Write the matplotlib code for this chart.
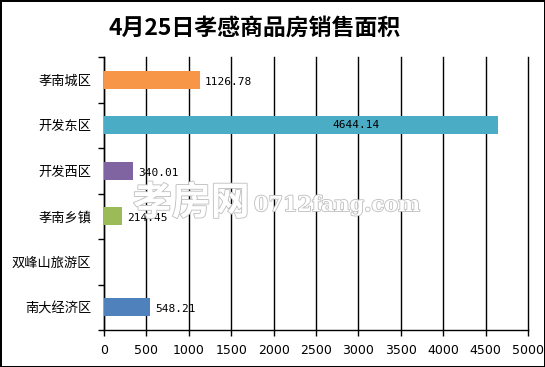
import matplotlib
matplotlib.use('Agg')
import matplotlib.pyplot as plt
import matplotlib.patheffects as pe
import numpy as np

plt.rcParams['font.family'] = ['Noto Sans CJK SC', 'DejaVu Sans']

# data, top to bottom as in the chart
districts = ['孝南城区', '开发东区', '开发西区', '孝南乡镇', '双峰山旅游区', '南大经济区']
areas = [1126.78, 4644.14, 340.01, 214.45, 0, 548.21]
colors = ['#F79646', '#4BACC6', '#8064A2', '#9BBB59', '#4F81BD', '#4F81BD']
x_ticks = list(range(0, 5001, 500))

fig = plt.figure(figsize=(5.45, 3.67), dpi=100)
fig.patch.set_edgecolor('black')
fig.patch.set_linewidth(2)
ax = fig.add_axes([104 / 545, 1 - 330 / 367, 424 / 545, 273 / 367])

y = np.arange(len(districts))
ax.barh(y, areas, height=0.4, color=colors, zorder=3)
ax.set_ylim(len(districts) - 0.5, -0.5)
ax.set_xlim(0, 5000)

# value labels
for yi, v in zip(y, areas):
    if v == 0:
        continue
    if v > 4000:
        ax.text(v * 0.64, yi, f'{v:.2f}', ha='center', va='center',
                fontsize=8, family='DejaVu Sans Mono', zorder=6)
    else:
        ax.text(v + 60, yi + 0.04, f'{v:.2f}', ha='left', va='center',
                fontsize=8, family='DejaVu Sans Mono', zorder=6)

ax.set_xticks(x_ticks)
ax.set_xticklabels([str(t) for t in x_ticks], fontsize=9, family='DejaVu Sans')
ax.set_yticks(y)
ax.set_yticklabels(districts, fontsize=9.5)
ax.set_yticks(np.arange(len(districts) + 1) - 0.5, minor=True)
ax.tick_params(axis='y', which='major', length=0, pad=9)
ax.tick_params(axis='y', which='minor', length=4, width=1, direction='out')
ax.tick_params(axis='x', length=4, width=1, direction='out', pad=6)
ax.grid(axis='x', color='black', linewidth=1, zorder=0)
for gl in ax.get_xgridlines():
    gl.set_clip_on(False)
for s in ['top', 'right']:
    ax.spines[s].set_visible(False)
for s in ['left', 'bottom']:
    ax.spines[s].set_linewidth(1)

fig.text(255 / 545, 1 - 28 / 367, '4月25日孝感商品房销售面积', ha='center', va='center',
         fontsize=16.5, fontweight='bold')

# watermark
wm = [pe.withStroke(linewidth=1.2, foreground='#bdbdbd')]
fig.text(133 / 545, 1 - 203 / 367, '孝房网', fontsize=28, color='white',
         ha='left', va='center', fontweight='bold', path_effects=wm, zorder=5)
fig.text(254 / 545, 1 - 205 / 367, '0712fang.com', fontsize=15, color='white',
         ha='left', va='center', family='DejaVu Serif', fontweight='bold',
         path_effects=wm, zorder=5)

fig.savefig('out.png', dpi=100, edgecolor=fig.get_edgecolor())
